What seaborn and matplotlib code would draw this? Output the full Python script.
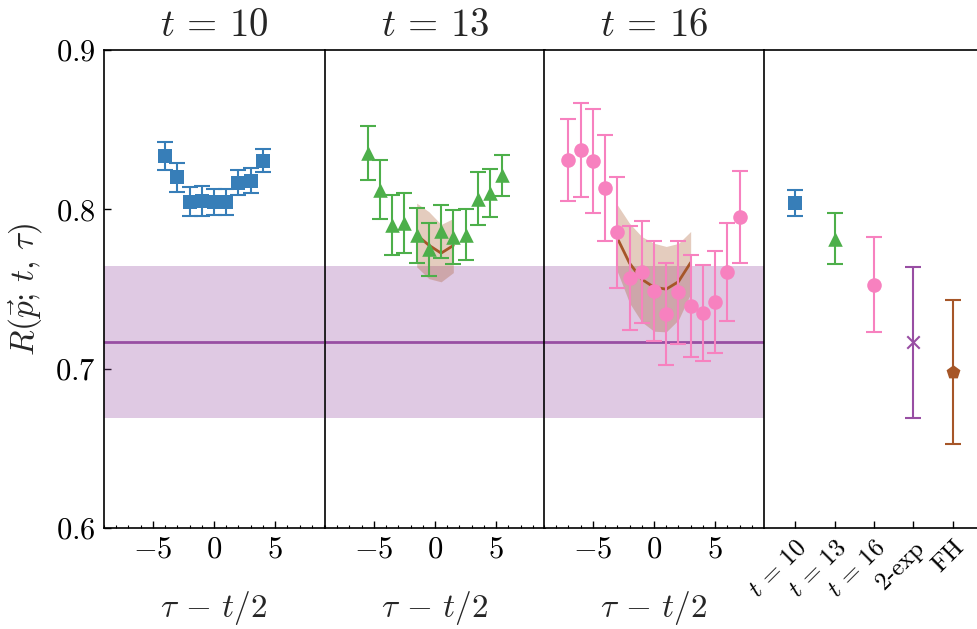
import numpy as np
import pandas as pd
import matplotlib
matplotlib.use('Agg')
import matplotlib.pyplot as plt
import seaborn as sns
from matplotlib.ticker import MultipleLocator, FixedLocator

# ---------------- data ----------------
panel_titles = [r'$t\,=\,10$', r'$t\,=\,13$', r'$t\,=\,16$']

tau_t10 = [-4, -3, -2, -1, 0, 1, 2, 3, 4]
R_t10 = [0.8335, 0.8200, 0.8048, 0.8053, 0.8045, 0.8045, 0.8168, 0.8180, 0.8306]
err_t10 = [0.0087, 0.0091, 0.0092, 0.0094, 0.0082, 0.0082, 0.0080, 0.0078, 0.0073]

tau_t13 = [-5.5, -4.5, -3.5, -2.5, -1.5, -0.5, 0.5, 1.5, 2.5, 3.5, 4.5, 5.5]
R_t13 = [0.8354, 0.8124, 0.7902, 0.7915, 0.7838, 0.7750, 0.7862, 0.7826,
         0.7840, 0.8067, 0.8103, 0.8214]
err_t13 = [0.0169, 0.0186, 0.0188, 0.0186, 0.0173, 0.0167, 0.0165, 0.0170,
           0.0161, 0.0165, 0.0149, 0.0128]

tau_t16 = [-7, -6, -5, -4, -3, -2, -1, 0, 1, 2, 3, 4, 5, 6, 7]
R_t16 = [0.8311, 0.8373, 0.8305, 0.8134, 0.7857, 0.7568, 0.7609, 0.7490,
         0.7344, 0.7480, 0.7394, 0.7348, 0.7420, 0.7609, 0.7953]
err_t16 = [0.0256, 0.0293, 0.0325, 0.0333, 0.0348, 0.0328, 0.0320, 0.0314,
           0.0322, 0.0324, 0.0318, 0.0303, 0.0319, 0.0307, 0.0288]

fit_tau_t13 = [-1.5, -0.5, 0.5, 1.5]
fit_R_t13 = [0.7839, 0.7775, 0.7725, 0.7773]
fit_err_t13 = [0.020, 0.021, 0.018, 0.017]

fit_tau_t16 = [-3, -2, -1, 0, 1, 2, 3]
fit_R_t16 = [0.7819, 0.7662, 0.7561, 0.7511, 0.7499, 0.7546, 0.7666]
fit_err_t16 = [0.0209, 0.0250, 0.0268, 0.0276, 0.0268, 0.0240, 0.0195]

two_exp_R = 0.7168
two_exp_err = 0.0477

summary_labels = [r'$t\,=\,10$', r'$t\,=\,13$', r'$t\,=\,16$', '2-exp', 'FH']
summary_R = [0.8042, 0.7816, 0.7526, 0.7165, 0.6980]
summary_err = [0.0082, 0.0161, 0.0299, 0.0476, 0.0452]

x_ticks = [-5, 0, 5]
x_tick_labels = ['$-5$', '$0$', '$5$']
y_ticks = [0.6, 0.7, 0.8, 0.9]
y_tick_labels = ['$0.6$', '$0.7$', '$0.8$', '$0.9$']

# ---------------- style ----------------
sns.set_style('ticks')
plt.rcParams['mathtext.fontset'] = 'cm'
plt.rcParams['font.family'] = ['cmr10', 'DejaVu Sans']
plt.rcParams['axes.unicode_minus'] = False

blue, green, pink, purple, brown = '#377eb8', '#4daf4a', '#f781bf', '#984ea3', '#a65628'
series_colors = [blue, green, pink]
series_markers = ['s', '^', 'o']
summary_colors = [blue, green, pink, purple, brown]
summary_markers = ['s', '^', 'o', 'x', 'p']

W, H = 977, 629
fig = plt.figure(figsize=(W / 100, H / 100), dpi=100)
lefts = [104, 325, 544, 764]
pw = 220
bottom_px, top_px = 528, 50
axes = [fig.add_axes([l / W, (H - bottom_px) / H, pw / W, (bottom_px - top_px) / H])
        for l in lefts]

taus = [tau_t10, tau_t13, tau_t16]
Rs = [R_t10, R_t13, R_t16]
errs = [err_t10, err_t13, err_t16]
fits = [None, (fit_tau_t13, fit_R_t13, fit_err_t13), (fit_tau_t16, fit_R_t16, fit_err_t16)]

for i, ax in enumerate(axes[:3]):
    # 2-exp band
    ax.axhspan(two_exp_R - two_exp_err, two_exp_R + two_exp_err,
               color=purple, alpha=0.3, lw=0, zorder=1)
    ax.axhline(two_exp_R, color=purple, lw=2, zorder=2)
    if fits[i] is not None:
        ft, fr, fe = fits[i]
        ft, fr, fe = np.array(ft), np.array(fr), np.array(fe)
        ax.fill_between(ft, fr - fe, fr + fe, color=brown, alpha=0.3, lw=0, zorder=2)
        sns.lineplot(x=ft, y=fr, ax=ax, color=brown, lw=2, zorder=3)
    df = pd.DataFrame({'tau': taus[i], 'R': Rs[i], 'err': errs[i]})
    ax.errorbar(df['tau'], df['R'], yerr=df['err'], fmt='none', ecolor=series_colors[i],
                elinewidth=1.5, capsize=5.5, capthick=1.5, zorder=4)
    sns.scatterplot(data=df, x='tau', y='R', ax=ax, marker=series_markers[i],
                    color=series_colors[i], s=95 if i == 0 else 110, linewidth=0, zorder=5)
    ax.set_xlim(-9, 9)
    ax.set_ylim(0.6, 0.9)
    ax.xaxis.set_major_locator(FixedLocator(x_ticks))
    ax.set_xticklabels(x_tick_labels, fontsize=22)
    ax.xaxis.set_minor_locator(MultipleLocator(1))
    ax.set_xlabel(r'$\tau\,-\,t/2$', fontsize=24, labelpad=18)
    ax.set_title(panel_titles[i], fontsize=28, pad=10)
    ax.spines['right'].set_visible(False)
    if i == 0:
        ax.yaxis.set_major_locator(FixedLocator(y_ticks))
        ax.set_yticklabels(y_tick_labels, fontsize=22)
        ax.set_ylabel(r'$R(\vec{p};\,t,\,\tau)$', fontsize=24, labelpad=8)
    else:
        ax.set_yticks([])
        ax.set_ylabel('')

# summary panel
ax = axes[3]
xs = np.arange(len(summary_labels))
for j in range(len(summary_labels)):
    ax.errorbar(xs[j], summary_R[j], yerr=summary_err[j], fmt='none',
                ecolor=summary_colors[j], elinewidth=1.5, capsize=5.5, capthick=1.5, zorder=4)
for j in range(len(summary_labels)):
    m = summary_markers[j]
    kw = dict(linewidth=1.5) if m == 'x' else dict(linewidth=0)
    sns.scatterplot(x=[xs[j]], y=[summary_R[j]], ax=ax, marker=m,
                    color=summary_colors[j], s=80 if m == 'x' else (95 if m == 's' else 110),
                    zorder=5, **kw)
ax.set_xlim(-0.8, 4.8)
ax.set_ylim(0.6, 0.9)
ax.set_yticks([])
ax.set_xticks(xs)
ax.set_xticklabels(summary_labels, rotation=45, ha='right', va='top',
                   rotation_mode='anchor', fontsize=18)
ax.set_ylabel('')

for ax in axes:
    for s in ax.spines.values():
        s.set_color('black')
        s.set_linewidth(1.2)
    ax.tick_params(which='major', direction='in', length=5, width=1.0, color='black',
                   labelcolor='black', pad=6)
    ax.tick_params(which='minor', direction='in', length=2.5, width=0.8, color='black')
    ax.tick_params(axis='both', which='both', top=False, right=False)
    ax.set_facecolor('white')
    if ax.get_legend() is not None:
        ax.get_legend().remove()

fig.savefig('out.png', dpi=100, facecolor='white')
